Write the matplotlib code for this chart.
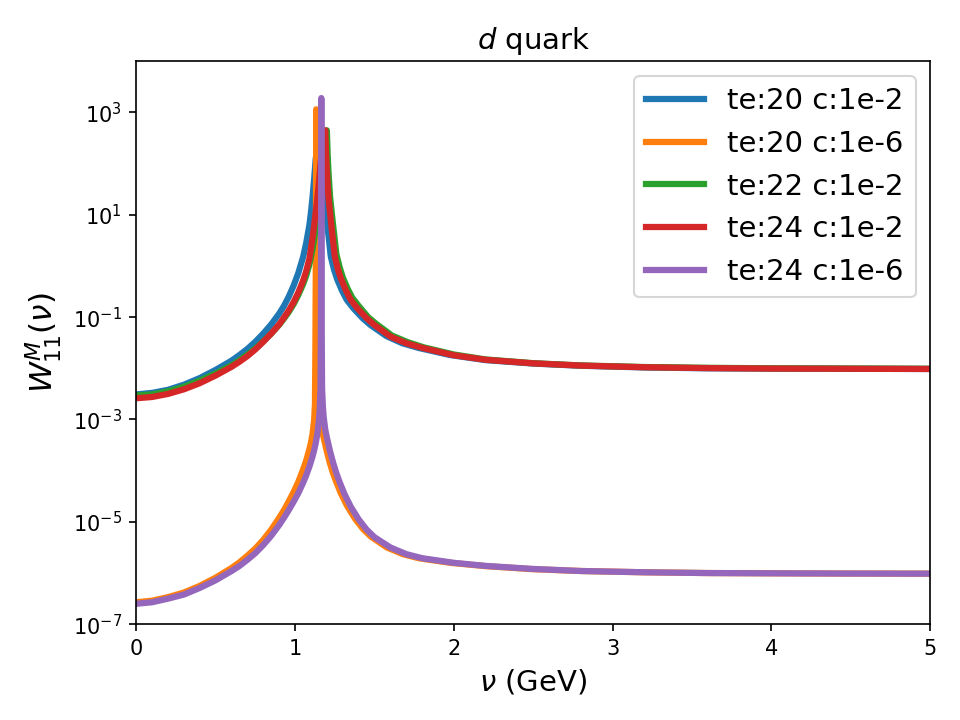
import numpy as np
import matplotlib.pyplot as plt

# values, stored as log10(W)

# te:20 c:1e-2
nu_b = [0, 0.1, 0.2, 0.3, 0.4, 0.5, 0.6, 0.65, 0.7, 0.75, 0.8, 0.85, 0.9, 0.93, 0.96, 0.99,
        1.02, 1.05, 1.07, 1.09, 1.1, 1.11, 1.12, 1.13, 1.14, 1.155, 1.165,
        1.17, 1.175, 1.185, 1.195, 1.205, 1.225, 1.245, 1.265, 1.295, 1.325, 1.365, 1.425, 1.475,
        1.575, 1.675, 1.775, 1.975, 2.2, 2.5, 2.8, 3.2, 3.6, 4.0, 4.5, 5.0]
lw_b = [-2.51, -2.48, -2.42, -2.32, -2.19, -2.03, -1.85, -1.74, -1.62, -1.48, -1.32, -1.14, -0.93, -0.78, -0.60, -0.39,
        -0.14, 0.17, 0.45, 0.80, 1.05, 1.35, 1.70, 2.10, 2.25, 2.5, 2.7,
        2.18, 1.85, 1.34, 1.04, 0.74, 0.18, -0.07, -0.26, -0.48, -0.66, -0.82, -1.02, -1.155,
        -1.37, -1.51, -1.60, -1.74, -1.84, -1.907, -1.95, -1.983, -2.0, -2.005, -2.009, -2.013]

# te:20 c:1e-6
nu_o = [0, 0.1, 0.2, 0.3, 0.4, 0.5, 0.6, 0.65, 0.7, 0.75, 0.8, 0.85, 0.9, 0.93, 0.96, 0.99,
        1.02, 1.05, 1.07, 1.09, 1.1, 1.11, 1.12, 1.125, 1.128, 1.131, 1.133,
        1.135, 1.138, 1.141, 1.146, 1.151, 1.16, 1.168, 1.178, 1.198, 1.218, 1.238, 1.258, 1.288, 1.328,
        1.378, 1.428, 1.478, 1.578, 1.678, 1.778, 1.978, 2.2, 2.5, 2.8, 3.2, 3.6, 4.0, 4.5, 5.0]
lw_o = [-6.57, -6.54, -6.47, -6.38, -6.25, -6.09, -5.90, -5.79, -5.66, -5.52, -5.35, -5.15, -4.92, -4.77, -4.60, -4.42,
        -4.22, -3.98, -3.80, -3.58, -3.45, -3.28, -3.0, -2.7, -1.5, 0.5, 3.06,
        0.5, -1.5, -2.4, -2.75, -2.95, -3.12, -3.22, -3.33, -3.6, -3.84, -4.04, -4.21, -4.44, -4.69,
        -4.94, -5.14, -5.29, -5.5, -5.63, -5.71, -5.8, -5.865, -5.925, -5.96, -5.985, -6.0, -6.005, -6.01, -6.012]

# te:22 c:1e-2
nu_g = [0, 0.1, 0.2, 0.3, 0.4, 0.5, 0.6, 0.65, 0.7, 0.75, 0.8, 0.85, 0.9, 0.93, 0.96, 0.99,
        1.02, 1.05, 1.07, 1.09, 1.11, 1.12, 1.13, 1.14, 1.15, 1.16, 1.17, 1.18, 1.19, 1.2,
        1.205, 1.21, 1.22, 1.23, 1.24, 1.26, 1.28, 1.3, 1.33, 1.36, 1.4, 1.46, 1.51,
        1.61, 1.71, 1.81, 2.0, 2.2, 2.5, 2.8, 3.2, 3.6, 4.0, 4.5, 5.0]
lw_g = [-2.53, -2.51, -2.45, -2.36, -2.24, -2.10, -1.94, -1.84, -1.73, -1.61, -1.47, -1.32, -1.15, -1.03, -0.90, -0.75,
        -0.57, -0.36, -0.19, 0.03, 0.33, 0.52, 0.75, 1.02, 1.33, 1.65, 1.95, 2.2, 2.45, 2.65,
        2.18, 1.85, 1.36, 1.06, 0.78, 0.23, -0.02, -0.22, -0.44, -0.62, -0.78, -1.0, -1.13,
        -1.36, -1.49, -1.59, -1.73, -1.827, -1.9, -1.944, -1.975, -1.99, -2.0, -2.004, -2.009]

# te:24 c:1e-2
nu_r = [0, 0.1, 0.2, 0.3, 0.4, 0.5, 0.6, 0.65, 0.7, 0.75, 0.8, 0.85, 0.9, 0.93, 0.96, 0.99,
        1.02, 1.05, 1.07, 1.09, 1.11, 1.12, 1.13, 1.14, 1.15, 1.16, 1.17, 1.18, 1.19,
        1.195, 1.2, 1.21, 1.22, 1.23, 1.25, 1.27, 1.29, 1.32, 1.35, 1.39, 1.45, 1.5,
        1.6, 1.7, 1.8, 2.0, 2.2, 2.5, 2.8, 3.2, 3.6, 4.0, 4.5, 5.0]
lw_r = [-2.585, -2.56, -2.50, -2.41, -2.29, -2.14, -1.97, -1.87, -1.76, -1.63, -1.48, -1.32, -1.14, -1.01, -0.87, -0.71,
        -0.52, -0.29, -0.10, 0.14, 0.55, 0.80, 1.05, 1.32, 1.65, 2.0, 2.3, 2.5, 2.65,
        2.18, 1.85, 1.34, 1.04, 0.74, 0.18, -0.07, -0.26, -0.48, -0.66, -0.82, -1.02, -1.155,
        -1.38, -1.51, -1.60, -1.745, -1.833, -1.903, -1.947, -1.979, -1.996, -2.005, -2.009, -2.013]

# te:24 c:1e-6
nu_p = [0, 0.1, 0.2, 0.3, 0.4, 0.5, 0.6, 0.65, 0.7, 0.75, 0.8, 0.85, 0.9, 0.93, 0.96, 0.99,
        1.02, 1.05, 1.07, 1.09, 1.11, 1.12, 1.13, 1.14, 1.15, 1.155, 1.16, 1.162, 1.164, 1.165,
        1.166, 1.168, 1.17, 1.175, 1.18, 1.19, 1.2, 1.22, 1.24, 1.26, 1.28, 1.31, 1.35, 1.4, 1.45, 1.5,
        1.6, 1.7, 1.8, 2.0, 2.2, 2.5, 2.8, 3.2, 3.6, 4.0, 4.5, 5.0]
lw_p = [-6.60, -6.57, -6.50, -6.42, -6.29, -6.14, -5.96, -5.86, -5.74, -5.61, -5.45, -5.27, -5.06, -4.92, -4.77, -4.61,
        -4.44, -4.24, -4.09, -3.92, -3.72, -3.60, -3.46, -3.28, -3.02, -2.8, -2.4, -1.5, 0.5, 3.28,
        0.5, -1.5, -2.4, -2.75, -2.95, -3.2, -3.35, -3.62, -3.85, -4.05, -4.22, -4.45, -4.7, -4.95, -5.15, -5.3,
        -5.5, -5.63, -5.71, -5.8, -5.86, -5.92, -5.96, -5.985, -6.0, -6.005, -6.01, -6.012]

labels = ["te:20 c:1e-2", "te:20 c:1e-6", "te:22 c:1e-2", "te:24 c:1e-2", "te:24 c:1e-6"]

fig, ax = plt.subplots(figsize=(6.4, 4.8), dpi=150)
for nu, lw, lab in zip([nu_b, nu_o, nu_g, nu_r, nu_p], [lw_b, lw_o, lw_g, lw_r, lw_p], labels):
    ax.plot(nu, np.power(10.0, lw), lw=3, label=lab)

ax.set_yscale("log")
ax.set_xlim(0, 5)
ax.set_ylim(1e-7, 1e4)
ax.set_yticks([1e-7, 1e-5, 1e-3, 1e-1, 1e1, 1e3])
ax.minorticks_off()
ax.set_title("$d$ quark", fontsize=14)
ax.set_xlabel(r"$\nu$ (GeV)", fontsize=14)
ax.set_ylabel(r"$W^M_{11}(\nu)$", fontsize=15)
ax.legend(fontsize=14, loc="upper right")
fig.subplots_adjust(left=0.142, right=0.969, top=0.915, bottom=0.133)
fig.savefig("out.png")
